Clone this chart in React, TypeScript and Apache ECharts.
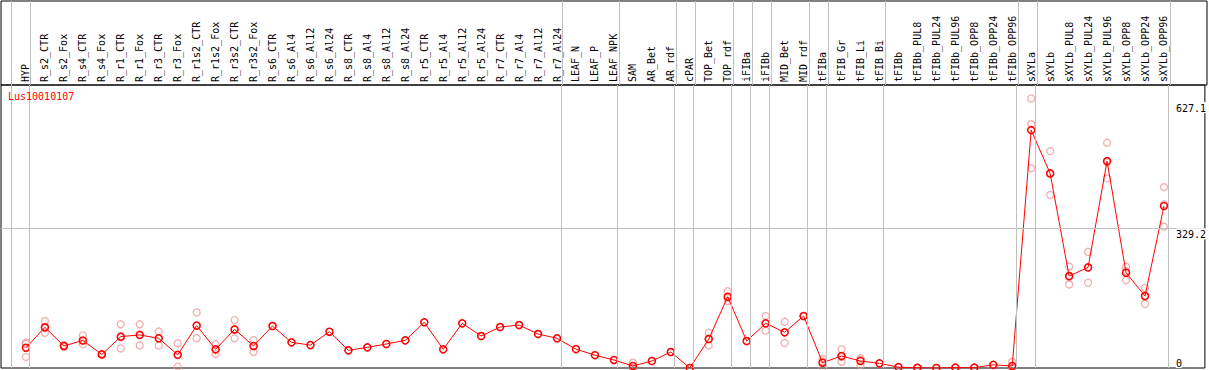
import React, { useEffect, useRef } from "react";
import * as echarts from "echarts";

const sampleId = "Lus10010107";

const categories = [
  "HYP",
  "R_s2_CTR", "R_s2_Fox", "R_s4_CTR", "R_s4_Fox", "R_r1_CTR", "R_r1_Fox", "R_r3_CTR", "R_r3_Fox",
  "R_r1s2_CTR", "R_r1s2_Fox", "R_r3s2_CTR", "R_r3s2_Fox",
  "R_s6_CTR", "R_s6_Al4", "R_s6_Al12", "R_s6_Al24",
  "R_s8_CTR", "R_s8_Al4", "R_s8_Al12", "R_s8_Al24",
  "R_r5_CTR", "R_r5_Al4", "R_r5_Al12", "R_r5_Al24",
  "R_r7_CTR", "R_r7_Al4", "R_r7_Al12", "R_r7_Al24",
  "LEAF_N", "LEAF_P", "LEAF_NPK",
  "SAM", "AR_Bet", "AR_rdf",
  "cPAR",
  "TOP_Bet", "TOP_rdf",
  "iFIBa",
  "iFIBb",
  "MID_Bet", "MID_rdf",
  "tFIBa",
  "tFIB_Gr", "tFIB_Li", "tFIB_Bi",
  "tFIBb", "tFIBb_PUL8", "tFIBb_PUL24", "tFIBb_PUL96", "tFIBb_OPP8", "tFIBb_OPP24", "tFIBb_OPP96",
  "sXYLa",
  "sXYLb", "sXYLb_PUL8", "sXYLb_PUL24", "sXYLb_PUL96", "sXYLb_OPP8", "sXYLb_OPP24", "sXYLb_OPP96",
];

// number of categories in each tissue group (separated by grey lines)
const groupSizes = [1, 28, 3, 3, 1, 2, 1, 1, 2, 1, 3, 7, 1, 7];

const means = [
  47.8,
  96, 52, 65, 32, 74, 78, 70, 31,
  100, 44, 91, 52,
  99, 60.5, 54, 85.5,
  41.6, 48.7, 56.6, 65.2,
  107.7, 44, 105.3, 75.4,
  96.6, 101.3, 80.1, 70,
  44.5, 30.2, 18.9,
  4.7, 16.5, 37.7,
  0,
  68.3, 168,
  63.6,
  105.3,
  84.1, 122.5,
  12.5,
  28.3, 16.5, 11,
  2, 0.5, 0, 1, 0.8, 7.5, 4.7,
  560.8,
  458.8, 216.8, 237.3, 487.8, 224.6, 169.7, 381.8,
];

const replicates: number[][] = [
  [60, 57, 26],
  [111, 83, 94], [50, 52, 54], [77, 56, 63], [31, 32, 34], [103, 46, 72], [103, 53, 77], [86, 53, 70], [58, 3, 31],
  [131, 70, 100], [56, 33, 43], [113, 70, 90], [66, 38, 51],
  [99], [60.5], [54], [85.5],
  [41.6], [48.7], [56.6], [65.2],
  [107.7], [44], [105.3], [75.4],
  [96.6], [101.3], [80.1], [70],
  [44.5], [30.2], [18.9],
  [12.5, 1, 0.6], [16.5], [37.7],
  [0],
  [83, 53, 69], [181, 158, 165],
  [63.6],
  [122.5, 88, 105.5],
  [109, 59, 84.3], [122.5],
  [1, 15, 21.5],
  [44, 15, 26], [23, 7, 19.5], [11],
  [2], [0.5], [0], [1], [0.8], [7.5], [14.5, 0, 0],
  [635.5, 575, 471],
  [511, 408, 457], [239, 197, 214], [274, 201, 237], [531, 447, 485], [239, 207, 228], [189, 151, 169], [426.5, 333, 386],
];

const yTickValues = [0, 329.2, 627.1];

const MONO = "'DejaVu Sans Mono', 'Liberation Mono', monospace";

export default function App() {
  const ref = useRef<HTMLDivElement>(null);

  useEffect(() => {
    if (!ref.current) return;
    const chart = echarts.init(ref.current, null, { renderer: "svg" });

    const xMin = -25 / 19;
    const xMax = categories.length - 1 + 41 / 19;

    const seps: number[] = [-1];
    let pos = -1;
    for (const s of groupSizes) {
      pos += s;
      seps.push(pos);
    }
    const sepLines = seps.map((s) => ({ xAxis: s + 0.2 }));

    const allReps = replicates.flat();
    const yMax = Math.max(...allReps) * 1.05;

    const repData: number[][] = [];
    replicates.forEach((arr, i) => arr.forEach((v) => repData.push([i, v])));
    const meanData = means.map((v, i) => [i, v]);

    const markLineBase = {
      silent: true,
      symbol: ["none", "none"],
      label: { show: false },
      lineStyle: { color: "#c0c0c0", type: "solid", width: 1 },
      animation: false,
    };

    chart.setOption({
      animation: false,
      title: {
        text: sampleId,
        left: 8,
        top: 91,
        padding: 0,
        textStyle: { color: "#ff0000", fontSize: 10, fontWeight: "normal", fontFamily: MONO },
      },
      grid: [
        { left: 1, right: 2, top: 1, height: 84, show: true, borderColor: "#000", borderWidth: 1, backgroundColor: "transparent" },
        { left: 1, right: 2, top: 85, bottom: 2, show: true, borderColor: "#000", borderWidth: 1, backgroundColor: "transparent" },
      ],
      xAxis: [
        {
          type: "value",
          gridIndex: 1,
          position: "top",
          min: xMin,
          max: xMax,
          axisLine: { show: false },
          axisTick: { show: false },
          splitLine: { show: false },
          axisLabel: {
            customValues: categories.map((_, i) => i),
            rotate: 90,
            margin: 3,
            formatter: (v: number) => categories[Math.round(v)] ?? "",
            color: "#000",
            fontSize: 10,
            fontFamily: MONO,
          },
        },
        { type: "value", gridIndex: 0, min: xMin, max: xMax, show: false },
      ],
      yAxis: [
        {
          type: "value",
          gridIndex: 1,
          position: "right",
          min: 0,
          max: yMax,
          z: 10,
          axisLine: { show: false },
          axisTick: { show: false },
          splitLine: { show: false },
          axisLabel: {
            customValues: yTickValues,
            inside: true,
            align: "left",
            margin: 29,
            verticalAlign: "top",
            verticalAlignMinLabel: "bottom",
            formatter: (v: number) => String(v),
            color: "#000",
            fontSize: 10,
            fontFamily: MONO,
            backgroundColor: "#fff",
            padding: [1, 0, 0, 0],
          },
        },
        { type: "value", gridIndex: 0, min: 0, max: 1, show: false },
      ],
      series: [
        {
          type: "scatter",
          xAxisIndex: 1,
          yAxisIndex: 1,
          data: [],
          markLine: { ...markLineBase, data: sepLines },
        },
        {
          type: "scatter",
          xAxisIndex: 0,
          yAxisIndex: 0,
          data: [],
          markLine: { ...markLineBase, data: [...sepLines, { yAxis: yTickValues[1] }] },
        },
        {
          type: "scatter",
          xAxisIndex: 0,
          yAxisIndex: 0,
          data: repData,
          symbol: "circle",
          symbolSize: 7,
          itemStyle: { color: "rgba(0,0,0,0)", borderColor: "#f09898", borderWidth: 1.3 },
          z: 3,
        },
        {
          type: "line",
          xAxisIndex: 0,
          yAxisIndex: 0,
          data: meanData,
          symbol: "circle",
          symbolSize: 7,
          lineStyle: { color: "#ff0000", width: 1 },
          itemStyle: { color: "rgba(0,0,0,0)", borderColor: "#ff0000", borderWidth: 1.5 },
          z: 4,
        },
      ],
    });

    return () => chart.dispose();
  }, []);

  return (
    <div
      ref={ref}
      style={{ position: "absolute", left: 0, top: 0, width: 1209, height: 370, background: "#fff" }}
    />
  );
}
